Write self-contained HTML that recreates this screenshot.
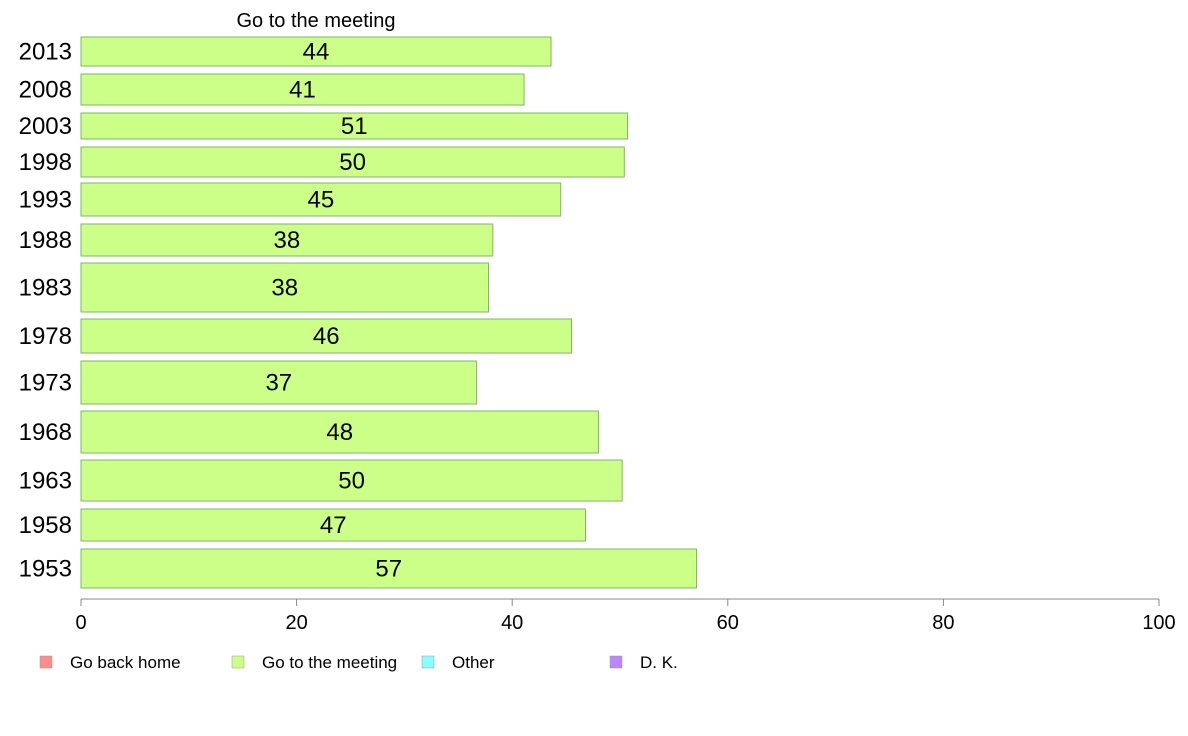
<!DOCTYPE html>
<html><head><meta charset="utf-8"><style>
body{margin:0;background:#fff;font-family:"Liberation Sans",sans-serif;}
svg{display:block}
</style></head><body>
<svg id="chart" width="1188" height="736">
<text x="316" y="27" font-size="20" text-anchor="middle">Go to the meeting</text>
<g id="bars"></g>
<g id="axis"></g>
<g id="legend"></g>
</svg>
<script>
const categories = ["2013","2008","2003","1998","1993","1988","1983","1978","1973","1968","1963","1958","1953"];
const values = [43.6,41.1,50.7,50.4,44.5,38.2,37.8,45.5,36.7,48.0,50.2,46.8,57.1];
const tickLabels = [0,20,40,60,80,100];
const legendLabels = ["Go back home","Go to the meeting","Other","D. K."];
const legendColors = ["#ff8c8c","#ccff88","#88ffff","#bb88ff"];
// layout: vertical extents of each row band (pixels)
const rowTops = [37,74,113,147,183,224,263,319,361,411,460,509,549];
const rowBots = [66,105,139,177,216,256,312,353,404,453,501,541,588];

const NS="http://www.w3.org/2000/svg";
const x0=81,x1=1159;
const xs=v=>x0+(v/100)*(x1-x0);
const bars=document.getElementById('bars');
function mk(tag,attrs,parent){const e=document.createElementNS(NS,tag);for(const k in attrs)e.setAttribute(k,attrs[k]);parent.appendChild(e);return e;}
categories.forEach((c,i)=>{
  const t=rowTops[i],b=rowBots[i],cy=(t+b)/2;
  const r=mk('rect',{x:x0,y:t,width:xs(values[i])-x0,height:b-t,fill:"#ccff88",stroke:"#7fb46a","stroke-width":1},bars);
  
  
  const lt=mk('text',{x:(x0+xs(values[i]))/2,y:cy+8,"font-size":24,"text-anchor":"middle"},bars);
  lt.textContent=Math.round(values[i]);
  
  
  const yt=mk('text',{x:72,y:cy+8,"font-size":24,"text-anchor":"end"},bars);
  yt.textContent=c;
  
  
});
const ax=document.getElementById('axis');
const al=mk('line',{x1:x0,x2:x1,y1:599,y2:599,stroke:"#888","stroke-width":1},ax);


tickLabels.forEach(v=>{
  const tk=mk('line',{x1:xs(v),x2:xs(v),y1:599,y2:606,stroke:"#888"},ax);
  
  
  const tt=mk('text',{x:xs(v),y:629,"font-size":20,"text-anchor":"middle"},ax);
  tt.textContent=v;
  
  
});
const lg=document.getElementById('legend');
const lx=[40,232,422,610];
legendLabels.forEach((l,i)=>{
  const r=mk('rect',{x:lx[i],y:656,width:12,height:12,fill:legendColors[i],stroke:"#999","stroke-width":0.5},lg);
  
  
  const t=mk('text',{x:lx[i]+30,y:668,"font-size":17},lg);
  t.textContent=l;
  
  
});
</script>
</body></html>
